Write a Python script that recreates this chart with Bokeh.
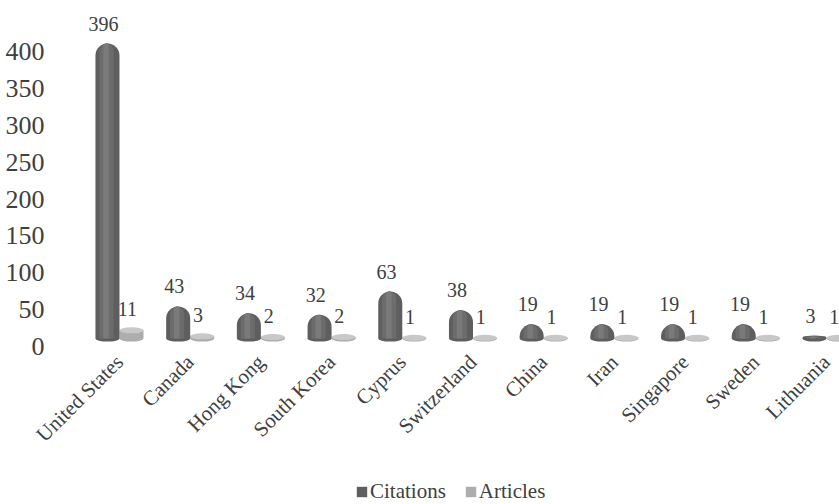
from bokeh.plotting import figure
from bokeh.models import (Range1d, LinearAxis, FixedTicker, ColumnDataSource,
                          Legend, LegendItem)
from bokeh.transform import dodge
from bokeh.core.properties import value
from bokeh.embed import file_html
from bokeh.resources import INLINE

countries = ["United States", "Canada", "Hong Kong", "South Korea", "Cyprus",
             "Switzerland", "China", "Iran", "Singapore", "Sweden", "Lithuania"]
citations = [396, 43, 34, 32, 63, 38, 19, 19, 19, 19, 3]
articles = [11, 3, 2, 2, 1, 1, 1, 1, 1, 1, 1]
y_ticks = [0, 50, 100, 150, 200, 250, 300, 350, 400]

FONT = "Liberation Serif"
TXT = "#404040"

idx = list(range(len(countries)))
src = ColumnDataSource(dict(x=idx, cit=citations, art=articles,
                            cit_lbl=[str(v) for v in citations],
                            art_lbl=[str(v) for v in articles],
                            zero=[0] * len(idx)))

p = figure(frame_width=839, frame_height=496, output_backend="svg",
           toolbar_location=None, x_range=Range1d(-1.683, 10.184),
           y_range=Range1d(-222.8, 443), y_axis_location=None,
           x_axis_location=None,
           min_border_left=0, min_border_right=0, min_border_top=8,
           min_border_bottom=0)
p.outline_line_color = None
p.background_fill_color = "white"
p.border_fill_color = "white"

# y axis (slightly offset like the 3D floor of the original)
p.extra_y_ranges = {"axis": Range1d(-214.2, 458.3)}
yax = LinearAxis(y_range_name="axis", ticker=FixedTicker(ticks=y_ticks),
                 fixed_location=-0.834)
yax.axis_line_color = None
yax.major_tick_line_color = None
yax.minor_tick_line_color = None
yax.major_label_text_font = FONT
yax.major_label_text_font_size = "26px"
yax.major_label_text_color = TXT
yax.major_label_standoff = 10
p.add_layout(yax, "left")

xax = LinearAxis(ticker=FixedTicker(ticks=idx), fixed_location=0)
xax.major_label_overrides = {i: c for i, c in zip(idx, countries)}
xax.major_label_orientation = 0.785398
xax.axis_line_color = None
xax.major_tick_line_color = None
xax.minor_tick_line_color = None
xax.major_label_text_font = FONT
xax.major_label_text_font_size = "21px"
xax.major_label_text_color = TXT
xax.major_label_standoff = 14
p.add_layout(xax, "below")

p.xgrid.visible = False
p.ygrid.visible = False

cx = dodge("x", -0.17, range=p.x_range)
ax = dodge("x", 0.17, range=p.x_range)
W = 0.34

# Articles (light cylinders / disks)
p.ellipse(x=ax, y="zero", width=W, height=6, height_units="screen",
          source=src, fill_color="#adadad", line_color=None)
art_bar = p.vbar(x=ax, top="art", bottom="zero", width=W, source=src,
                 fill_color="#adadad", line_color=None)
p.ellipse(x=ax, y="art", width=W, height=6, height_units="screen",
          source=src, fill_color="#c8c8c8", line_color=None)

# Citations (dark cylinders with rounded tops)
p.ellipse(x=cx, y="zero", width=W, height=6, height_units="screen",
          source=src, fill_color="#5e5e5e", line_color=None)
cit_bar = p.vbar(x=cx, top="cit", bottom="zero", width=W, source=src,
                 fill_color="#5e5e5e", line_color=None,
                 border_radius=(12, 12, 0, 0))
p.vbar(x=dodge("x", -0.185, range=p.x_range), top="cit", bottom="zero",
       width=0.2, source=src, fill_color="#6c6c6c", line_color=None,
       border_radius=(7, 7, 0, 0))
p.vbar(x=dodge("x", -0.19, range=p.x_range), top="cit", bottom="zero",
       width=0.08, source=src, fill_color="#7a7a7a", line_color=None,
       border_radius=(3, 3, 0, 0))

# data labels
p.text(x=dodge("x", -0.225, range=p.x_range), y="cit", text="cit_lbl",
       source=src, y_offset=-20, text_align="center", text_baseline="middle",
       text_font=value(FONT), text_font_size="20px", text_color=TXT)
p.text(x=dodge("x", 0.11, range=p.x_range), y="art", text="art_lbl",
       source=src, y_offset=-21, text_align="center", text_baseline="middle",
       text_font=value(FONT), text_font_size="20px", text_color=TXT)

legend = Legend(items=[LegendItem(label="Citations", renderers=[cit_bar]),
                       LegendItem(label="Articles", renderers=[art_bar])],
                orientation="horizontal", location=(355, 0))
legend.label_text_font = FONT
legend.label_text_font_size = "21px"
legend.label_text_color = TXT
legend.border_line_color = None
legend.background_fill_alpha = 0
legend.glyph_width = 13
legend.glyph_height = 13
legend.label_standoff = 2
legend.spacing = 18
legend.margin = 0
legend.padding = 0
p.add_layout(legend)

open("out.html", "w").write(file_html(p, INLINE))
